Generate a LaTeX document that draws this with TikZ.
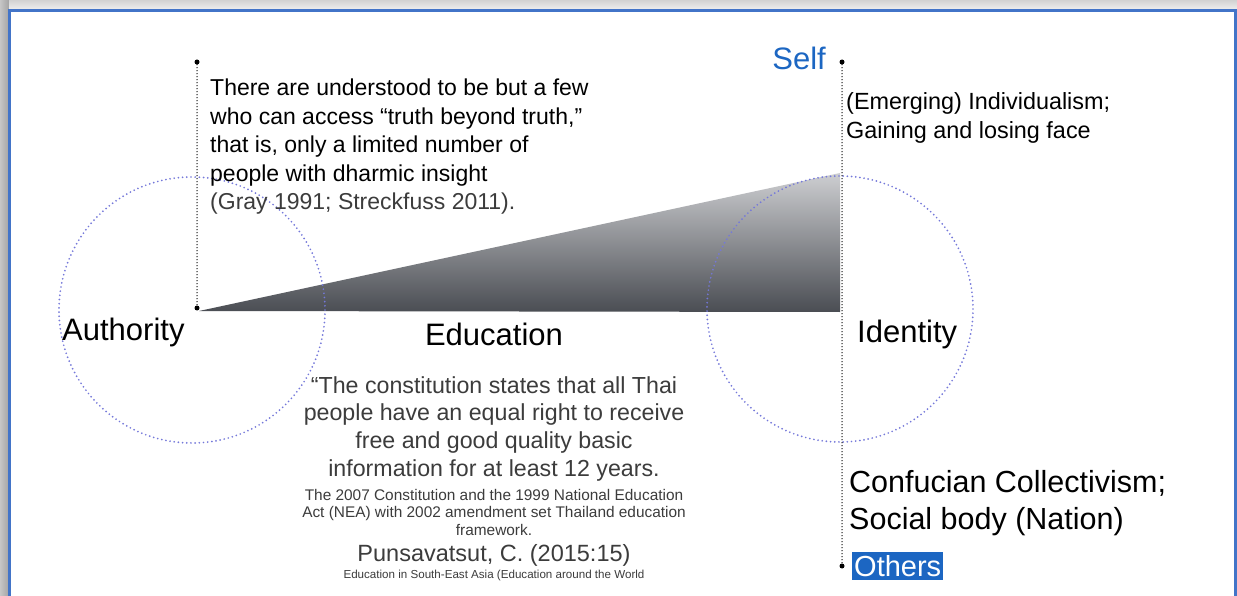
\documentclass[tikz,border=0pt]{standalone}
\usepackage{fontspec}
\setmainfont{Liberation Sans}
\usepackage{tikz}
\usetikzlibrary{positioning, calc}
\usepackage{xcolor}
\definecolor{frameblue}{HTML}{4274C8}
\definecolor{selfblue}{HTML}{1C66C2}
\definecolor{ringblue}{HTML}{7478DA}
\definecolor{quotegray}{HTML}{3C3C3C}
\definecolor{wedgetop}{HTML}{CDCED1}
\definecolor{wedgebot}{HTML}{4A4D53}
\tikzset{
  pin/.style={circle, fill=black, inner sep=0pt, minimum size=5pt},
  ring/.style={ringblue, line width=1.9pt, line cap=round, dash pattern=on 0pt off 4.2pt},
  axis/.style={black, line width=1.4pt, line cap=round, dash pattern=on 0pt off 3pt},
  label/.style={inner sep=0pt, font=\fontsize{31}{36}\selectfont},
}

\begin{document}
\begin{tikzpicture}[x=1pt, y=-1pt]
	\useasboundingbox (0,0) rectangle (1237,596);
	% frame and its shadow
	\fill[gray!15] (0,0) rectangle (1237,596);
	\shade[left color=gray!45, right color=gray!72] (0,0) rectangle (9,596);
	\shade[top color=gray!35, bottom color=gray!12] (9,0) rectangle (1237,10);
	\draw[frameblue, line width=3pt, fill=white] (9.5,11) rectangle (1235.5,610);
	% wedge
	\shade[top color=wedgetop, bottom color=wedgebot] (199,311) -- (840,173) -- (840,312) -- cycle;
	% circles
	\draw[ring] (192,310) circle (133);
	\draw[ring] (840,309) circle (133);
	% axes
	\node[pin] (top) at (197,62) {};
	\node[pin] (auth) at (197,308) {};
	\node[pin] (self) at (842,62) {};
	\node[pin] (others) at (842,566) {};
	\draw[axis] (top) -- (auth);
	\draw[axis] (self) -- (others);
	% labels
	\node[label, anchor=west] (authority) at (62,332) {Authority};
	\node[label] (education) at (494,334) {Education};
	\node[label, anchor=west] (identity) at (857,334) {Identity};
	\node[label, anchor=east, text=selfblue] (selftext) at (826,58) {Self};
	\node[label, anchor=west, fill=selfblue, text=white, inner xsep=2pt, inner ysep=3pt, font=\fontsize{29}{34}\selectfont] (otherstext) at (852,566) {Others};
	% texts
	\node[inner sep=0pt, anchor=north west, align=left, font=\fontsize{23}{28.5}\selectfont] (few) at (210,79)
		{There are understood to be but a few\\ who can access “truth beyond truth,”\\ that is, only a limited number of\\ people with dharmic insight\\ \textcolor{quotegray}{(Gray 1991; Streckfuss 2011).}};
	\node[inner sep=0pt, anchor=north west, align=left, font=\fontsize{23.4}{29}\selectfont] (indiv) at (846,92.5)
		{(Emerging) Individualism;\\ Gaining and losing face};
	\node[inner sep=0pt, anchor=north west, align=left, font=\fontsize{30.5}{37}\selectfont] (confu) at (849,470)
		{Confucian Collectivism;\\ Social body (Nation)};
	\node[inner sep=0pt, anchor=north, align=center, text=quotegray, font=\fontsize{23.2}{27.7}\selectfont] (quote) at (494,376)
		{“The constitution states that all Thai\\ people have an equal right to receive\\ free and good quality basic\\ information for at least 12 years.};
	\node[inner sep=0pt, anchor=north, align=center, text=quotegray, font=\fontsize{15.4}{17.5}\selectfont] (nea) at (494,489)
		{The 2007 Constitution and the 1999 National Education\\ Act (NEA) with 2002 amendment set Thailand education\\ framework.};
	\node[inner sep=0pt, anchor=north, text=quotegray, font=\fontsize{23.5}{28}\selectfont] (cite) at (494,544.5) {Punsavatsut, C. (2015:15)};
	\node[inner sep=0pt, anchor=north, text=quotegray, font=\fontsize{11.6}{13}\selectfont] (book) at (494,569.5) {Education in South-East Asia (Education around the World};
\end{tikzpicture}
\end{document}
